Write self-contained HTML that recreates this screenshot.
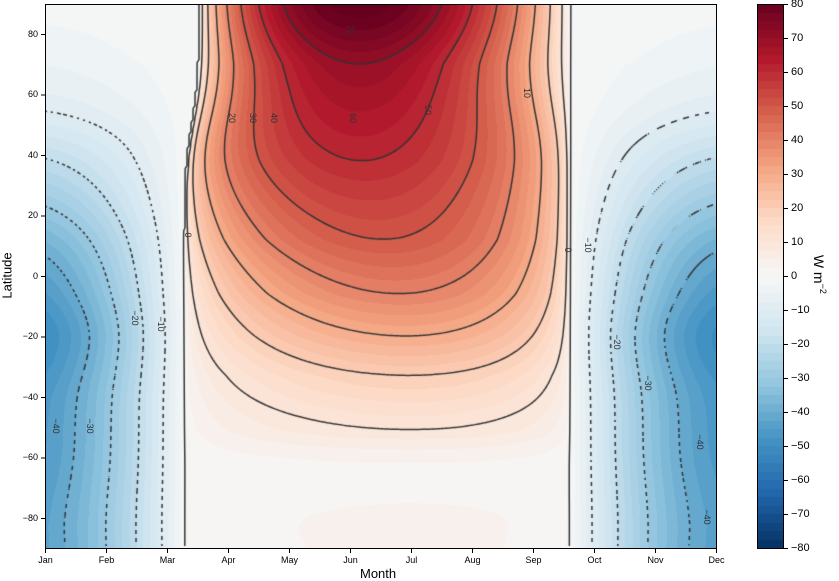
<!DOCTYPE html>
<html><head><meta charset="utf-8"><style>
body{margin:0;background:#fff;width:839px;height:579px;overflow:hidden;position:relative;font-family:"Liberation Sans",sans-serif;}
canvas{position:absolute}
.t{position:absolute;font-size:9px;color:#000;}
.cl{position:absolute;font-size:11px;color:#000;}
.lb{position:absolute;font-size:9px;color:#333;transform:translate(-50%,-50%) rotate(90deg);white-space:nowrap}
</style></head><body>
<canvas id="c" width="671" height="544" style="left:45px;top:4px"></canvas>
<canvas id="cb" width="27" height="544" style="left:757px;top:4px"></canvas>
<svg width="839" height="579" style="position:absolute;left:0;top:0">
<rect x="45.5" y="4.5" width="671" height="544" fill="none" stroke="#000" stroke-width="1"/>
<rect x="757.5" y="4.5" width="26" height="544" fill="none" stroke="#000" stroke-width="1"/>
<g id="tk" stroke="#000" stroke-width="1"></g>
</svg>
<div id="lab"></div>
<div style="position:absolute;left:360px;top:566px;font-size:13px;">Month</div>
<div style="position:absolute;left:-16px;top:268px;font-size:13px;transform:rotate(-90deg);">Latitude</div>
<div style="position:absolute;left:800px;top:266px;font-size:14px;white-space:nowrap;transform:rotate(90deg);">W m<sup style="font-size:9px">−2</sup></div>
<script>
var W=671,H=544;
function cr(xs,ys,x){
 if(x<=xs[0])return ys[0];var n=xs.length;if(x>=xs[n-1])return ys[n-1];
 var i=1;while(xs[i]<x)i++;i--;
 var t=(x-xs[i])/(xs[i+1]-xs[i]);
 var p0=ys[Math.max(0,i-1)],p1=ys[i],p2=ys[i+1],p3=ys[Math.min(n-1,i+2)];
 return 0.5*((2*p1)+(-p0+p2)*t+(2*p0-5*p1+4*p2-p3)*t*t+(-p0+3*p1-3*p2+p3)*t*t*t);
}
function sg(x){return 1/(1+Math.exp(-x));}
var LP=[-90,-80,-70,-62,-51,-33,-20,-6,12,38,70,90];
var AP=[3,3,2,2.5,10,20,30,40,50,60,70,82];
var LM=[-90,-80,-60,-40,-20,-5,10,25,40,55,70,80,90];
var AM=[45,45,47,48,52,47,40,30,20,10,5,3,2];
function field(t,lat){
 var ap=cr(LP,AP,lat),am=cr(LM,AM,lat);
 var z1=2.3+0.25*sg((lat-50)/8),z2=8.6;
 if(t>=z1&&t<=z2){var u=(t-z1)/(z2-z1);
  var p=1.31-0.49*sg((lat-10)/15);
  u=Math.pow(u,p);
  var pw=0.4+0.3*sg((lat-55)/8);
  return ap*Math.pow(Math.sin(Math.PI*u),pw);}
 var tt=t<z1?t+12:t;var u=(tt-z2)/(12+z1-z2);return -am*Math.pow(Math.sin(Math.PI*u),0.95);
}
var stops=[[5,48,97],[33,102,172],[67,147,195],[146,197,222],[209,229,240],[247,247,247],[253,219,199],[244,165,130],[214,96,77],[178,24,43],[103,0,31]];
function cmap(v){var p=(v+80)/160;p=Math.max(0,Math.min(0.9999,p));var s=p*10,i=Math.floor(s),f=s-i;var a=stops[i],b=stops[i+1];return [a[0]+(b[0]-a[0])*f,a[1]+(b[1]-a[1])*f,a[2]+(b[2]-a[2])*f];}
function q(v){return Math.floor(v/2.5)*2.5+1.25;}
var ctx=document.getElementById('c').getContext('2d');
var img=ctx.createImageData(W,H);
var grid=[];
for(var y=0;y<H;y++){var lat=90-180*(y+0.5)/H;var row=[];for(var x=0;x<W;x++){var t=(x+0.5)/61;var v=field(t,lat);row.push(v);var c=cmap(q(v));var k=(y*W+x)*4;img.data[k]=c[0];img.data[k+1]=c[1];img.data[k+2]=c[2];img.data[k+3]=255;}grid.push(row);}
ctx.putImageData(img,0,0);
ctx.strokeStyle='#333';ctx.lineWidth=1.5;
var levels=[-40,-30,-20,-10,0,10,20,30,40,50,60,70];
var st=2;
levels.forEach(function(L){
 ctx.beginPath();
 for(var y=0;y+st<H;y+=st)for(var x=0;x+st<W;x+=st){
  var a=grid[y][x],b=grid[y][x+st],c=grid[y+st][x+st],d=grid[y+st][x];
  var pts=[];
  function e(v1,v2,x1,y1,x2,y2){if((v1<L)!=(v2<L)){var f=(L-v1)/(v2-v1);pts.push([x1+(x2-x1)*f,y1+(y2-y1)*f]);}}
  e(a,b,x,y,x+st,y);e(b,c,x+st,y,x+st,y+st);e(c,d,x+st,y+st,x,y+st);e(d,a,x,y+st,x,y);
  if(L<0&&Math.floor((x+y)/4)%2==1)continue;
  for(var i=0;i+1<pts.length;i+=2){ctx.moveTo(pts[i][0],pts[i][1]);ctx.lineTo(pts[i+1][0],pts[i+1][1]);}
 }
 ctx.stroke();
});
var cb=document.getElementById('cb').getContext('2d');
for(var y=0;y<544;y++){var v=80-160*(y+0.5)/544;var c=cmap(q(v));cb.fillStyle='rgb('+c.map(Math.round).join(',')+')';cb.fillRect(0,y,27,1);}
var tk=document.getElementById('tk'),lab=document.getElementById('lab'),h='',s='';
var mons=['Jan','Feb','Mar','Apr','May','Jun','Jul','Aug','Sep','Oct','Nov','Dec'];
for(var i=0;i<12;i++){var x=45.5+61*i;s+='<line x1="'+x+'" y1="549" x2="'+x+'" y2="553"/>';h+='<div class="t" style="left:'+(x-12)+'px;top:555px;width:24px;text-align:center">'+mons[i]+'</div>';}
for(var l=-80;l<=80;l+=20){var y=276-l*3.025+0.5;s+='<line x1="41" y1="'+y+'" x2="45" y2="'+y+'"/>';h+='<div class="t" style="left:0px;width:38px;text-align:right;top:'+(y-6)+'px">'+(l<0?'−'+(-l):l)+'</div>';}
for(var v=-80;v<=80;v+=10){var y=4+(80-v)*3.4+0.5;s+='<line x1="784" y1="'+y+'" x2="788" y2="'+y+'"/>';h+='<div class="cl" style="left:791px;top:'+(y-7)+'px">'+(v<0?'−'+(-v):v)+'</div>';}
var L=[["70",350,30],["60",353,118],["50",428,110],["40",274,118],["30",253,118],["20",232,118],["10",527,93],["0",188,235],["0",568,250],["−10",588,245],["−10",161,324],["−20",135,318],["−20",617,342],["−30",90,426],["−30",648,383],["−40",56,426],["−40",700,442],["−40",707,517]];
L.forEach(function(a){h+='<div class="lb" style="left:'+a[1]+'px;top:'+a[2]+'px">'+a[0]+'</div>';});
tk.innerHTML=s;lab.innerHTML=h;
</script>
</body></html>
